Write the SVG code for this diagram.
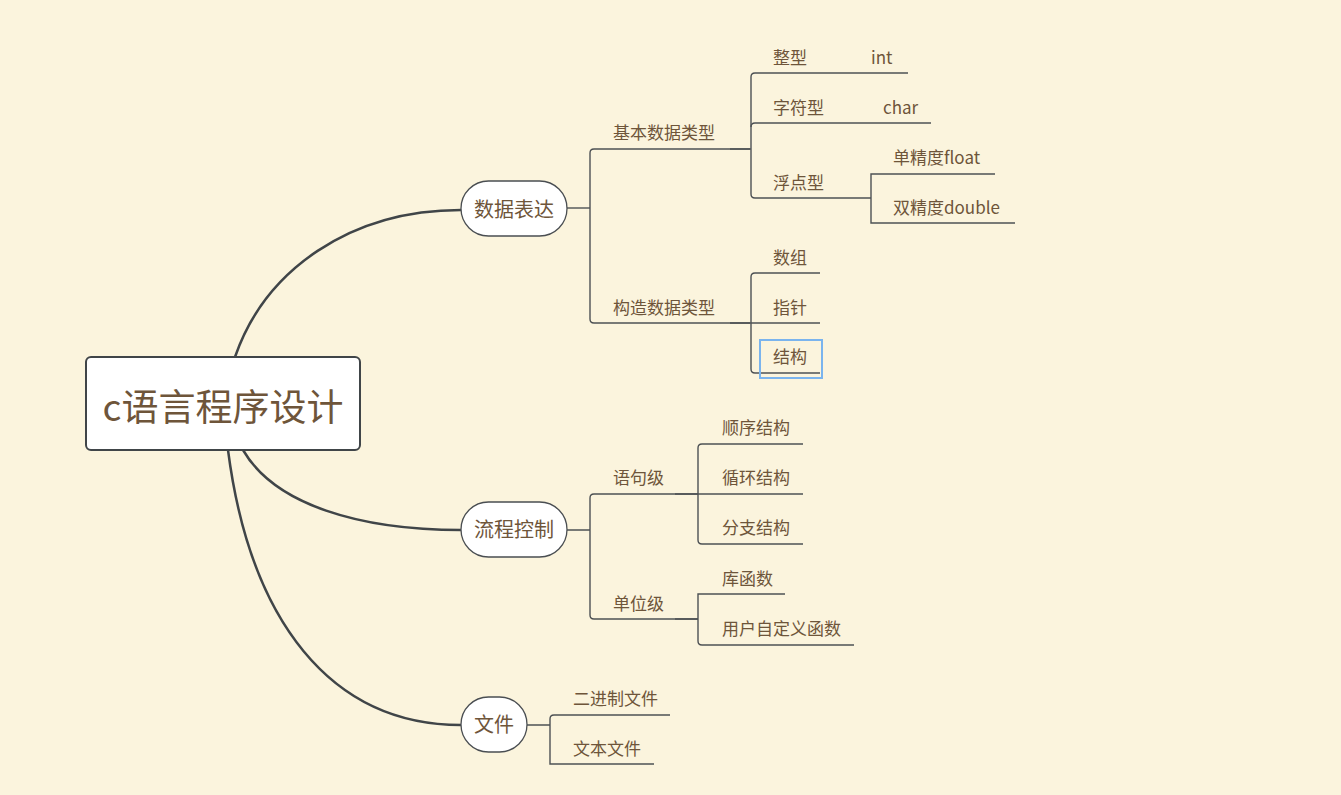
<svg xmlns="http://www.w3.org/2000/svg" width="1341" height="795" viewBox="0 0 1341 795">
<style>
.t{font-family:"Noto Sans CJK SC","Liberation Sans",sans-serif;fill:#6e553a;}
.s{font-size:17px;}
.m{font-size:20px;}
.br{fill:none;stroke:#4d5154;stroke-width:1.4;}
.mc{fill:none;stroke:#404548;stroke-width:2.5;}
.cap{fill:#fff;stroke:#4a4e52;stroke-width:1.3;}
</style>
<rect width="1341" height="795" fill="#fbf4dd"/>
<g id="connectors">
<path class="mc" d="M235,357 C265,270 350,210 461,210"/>
<path class="mc" d="M243,450 C275,505 360,530 461,530"/>
<path class="mc" d="M228,450 C250,620 330,725 461,725"/>
<path class="br" d="M567,208 H590"/>
<path class="br" d="M750,149 H594 Q590,149 590,153 V319 Q590,323 594,323 H750"/>
<path class="br" d="M730,149 H751"/>
<path class="br" d="M908,73 H755 Q751,73 751,77 V194 Q751,198 755,198 H871"/>
<path class="br" d="M931,123 H755 Q751,123 751,127"/>
<path class="br" d="M995,174 H871 V223 H1015"/>
<path class="br" d="M730,323 H751 M820,273 H755 Q751,273 751,277 V369 Q751,373 755,373 H820 M751,323 H820"/>
<path class="br" d="M567,530 H590 M698,494 H594 Q590,494 590,498 V615 Q590,619 594,619 H698"/>
<path class="br" d="M675,494 H803 M803,444 H702 Q698,444 698,448 V540 Q698,544 702,544 H803"/>
<path class="br" d="M675,619 H698 M785,594 H698 V641 Q698,645 702,645 H854"/>
<path class="br" d="M527,725 H550 M670,715 H554 Q550,715 550,719 V764 H654"/>
</g>
<g id="root">
<rect x="86" y="357" width="274" height="93" rx="5" fill="#fff" stroke="#404548" stroke-width="2"/>
<text class="t" x="223" y="421" font-size="37" text-anchor="middle">c语言程序设计</text>
</g>
<g id="n-shuju">
<rect class="cap" x="461" y="181" width="106" height="55" rx="27.5"/>
<text class="t m" x="514" y="217" text-anchor="middle">数据表达</text>
</g>
<g id="n-liucheng">
<rect class="cap" x="461" y="502" width="106" height="55" rx="27.5"/>
<text class="t m" x="514" y="537" text-anchor="middle">流程控制</text>
</g>
<g id="n-wenjian">
<rect class="cap" x="461" y="697" width="66" height="55" rx="27.5"/>
<text class="t m" x="494" y="732" text-anchor="middle">文件</text>
</g>
<g id="n-jiben"><text class="t s" x="613" y="139">基本数据类型</text></g>
<g id="n-gouzao"><text class="t s" x="613" y="314">构造数据类型</text></g>
<g id="n-zhengxing"><text class="t s" x="773" y="64">整型</text></g>
<g id="n-int"><text class="t s" x="871" y="64">int</text></g>
<g id="n-zifu"><text class="t s" x="773" y="114">字符型</text></g>
<g id="n-char"><text class="t s" x="883" y="114">char</text></g>
<g id="n-fudian"><text class="t s" x="773" y="189">浮点型</text></g>
<g id="n-float"><text class="t s" x="893" y="164">单精度float</text></g>
<g id="n-double"><text class="t s" x="893" y="214">双精度double</text></g>
<g id="n-shuzu"><text class="t s" x="773" y="264">数组</text></g>
<g id="n-zhizhen"><text class="t s" x="773" y="314">指针</text></g>
<g id="n-jiegou">
<text class="t s" x="773" y="363">结构</text>
<rect x="760" y="340" width="62" height="38" fill="none" stroke="#7ab4ee" stroke-width="2"/>
</g>
<g id="n-yuju"><text class="t s" x="613" y="484">语句级</text></g>
<g id="n-danwei"><text class="t s" x="613" y="610">单位级</text></g>
<g id="n-shunxu"><text class="t s" x="722" y="434">顺序结构</text></g>
<g id="n-xunhuan"><text class="t s" x="722" y="484">循环结构</text></g>
<g id="n-fenzhi"><text class="t s" x="722" y="534">分支结构</text></g>
<g id="n-kuhanshu"><text class="t s" x="722" y="585">库函数</text></g>
<g id="n-yonghu"><text class="t s" x="722" y="635">用户自定义函数</text></g>
<g id="n-erjinzhi"><text class="t s" x="573" y="705">二进制文件</text></g>
<g id="n-wenben"><text class="t s" x="573" y="755">文本文件</text></g>
</svg>
